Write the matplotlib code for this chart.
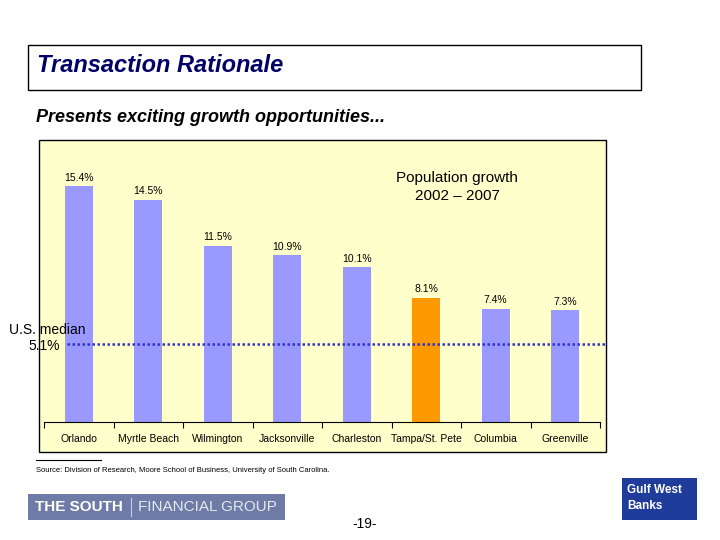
import numpy as np
import matplotlib.pyplot as plt
from matplotlib.patches import Rectangle
from matplotlib.lines import Line2D

###############################################################################
# data
###############################################################################
cities = ["Orlando", "Myrtle Beach", "Wilmington", "Jacksonville",
          "Charleston", "Tampa/St. Pete", "Columbia", "Greenville"]
growth = [15.4, 14.5, 11.5, 10.9, 10.1, 8.1, 7.4, 7.3]
us_median = 5.1
highlight = "Tampa/St. Pete"

bar_color = "#9999FF"
hl_color = "#FF9900"
bg_color = "#FFFFCC"

plt.rcParams['font.family'] = ['Liberation Sans', 'DejaVu Sans']

W, H = 720, 540
fig = plt.figure(figsize=(7.2, 5.4), dpi=100)


def fx(px):
    return px / W


def fy(py):
    return 1 - py / H


############
# header
############
fig.patches.append(Rectangle((fx(28), fy(90)), fx(641) - fx(28),
                             fy(45) - fy(90), transform=fig.transFigure,
                             facecolor="white", edgecolor="black", lw=1))
fig.text(fx(37), fy(66), "Transaction Rationale", fontsize=17,
         fontweight="bold", fontstyle="italic", color="#000066",
         va="center", ha="left")
fig.text(fx(36), fy(117), "Presents exciting growth opportunities...",
         fontsize=13, fontweight="bold", fontstyle="italic", color="black",
         va="center", ha="left")

############
# chart frame
############
fig.patches.append(Rectangle((fx(39), fy(452)), fx(606) - fx(39),
                             fy(140) - fy(452), transform=fig.transFigure,
                             facecolor=bg_color, edgecolor="black", lw=1,
                             zorder=0))

ax = fig.add_axes([fx(44), fy(422), fx(600) - fx(44), fy(140) - fy(422)])
ax.set_zorder(2)
ax.patch.set_alpha(0)
x = np.arange(len(cities))
colors = [hl_color if c == highlight else bar_color for c in cities]
ax.bar(x, growth, width=0.4, color=colors, zorder=2)
for xi, v in zip(x, growth):
    ax.text(xi, v + 0.22, "%.1f%%" % v, ha="center", va="bottom",
            fontsize=7.5)

ax.set_xlim(-0.5, len(cities) - 0.5)
ax.set_ylim(0, 18.4)
ax.set_xticks(np.arange(len(cities) + 1) - 0.5)
ax.set_xticklabels([])
ax.set_xticks(x, minor=True)
ax.set_xticklabels(cities, minor=True, fontsize=7.5)
ax.tick_params(axis="x", which="major", length=4, direction="out",
               color="black")
ax.tick_params(axis="x", which="minor", length=0, pad=9)
ax.set_yticks([])
for side in ["top", "right", "left"]:
    ax.spines[side].set_visible(False)
ax.spines["bottom"].set_color("black")

# U.S. median line
ax.hlines(us_median, -0.17, 7.59, colors="#3333CC", linestyles=(0, (1, 1)),
          lw=1.8, clip_on=False, zorder=3)
fig.text(fx(47), fy(330), "U.S. median", ha="center", va="center",
         fontsize=10, zorder=5)
fig.text(fx(60), fy(346), "%.1f%%" % us_median, ha="right", va="center",
         fontsize=10, zorder=5)

fig.text(fx(457), fy(178), "Population growth", ha="center", va="center",
         fontsize=11, zorder=5)
fig.text(fx(457), fy(196), "2002 \u2013 2007", ha="center", va="center",
         fontsize=11, zorder=5)

############
# footer
############
fig.lines.append(Line2D([fx(36), fx(101)], [fy(460), fy(460)],
                        transform=fig.transFigure, color="black", lw=0.8))
fig.text(fx(36), fy(470), "Source: Division of Research, Moore School of "
         "Business, University of South Carolina.", fontsize=5.5,
         ha="left", va="center")

fig.patches.append(Rectangle((fx(28), fy(520)), fx(285) - fx(28),
                             fy(494) - fy(520), transform=fig.transFigure,
                             facecolor="#6E7BA6", edgecolor="none"))
fig.text(fx(35), fy(507), "THE SOUTH", fontsize=11, fontweight="bold",
         color="white", ha="left", va="center")
fig.lines.append(Line2D([fx(131), fx(131)], [fy(498), fy(516)],
                        transform=fig.transFigure, color="#C8CCDD", lw=0.8))
fig.text(fx(138), fy(507), "FINANCIAL GROUP", fontsize=11,
         color="#E6E8F0", ha="left", va="center")

fig.patches.append(Rectangle((fx(622), fy(520)), fx(697) - fx(622),
                             fy(478) - fy(520), transform=fig.transFigure,
                             facecolor="#1F3C9A", edgecolor="none"))
fig.text(fx(627), fy(490), "Gulf West", fontsize=8.5, fontweight="bold",
         color="white", ha="left", va="center")
fig.text(fx(627), fy(506), "Banks", fontsize=8.5, fontweight="bold",
         color="white", ha="left", va="center")

fig.text(fx(365), fy(524), "-19-", fontsize=10, ha="center", va="center")

plt.savefig("out.png", dpi=100)
